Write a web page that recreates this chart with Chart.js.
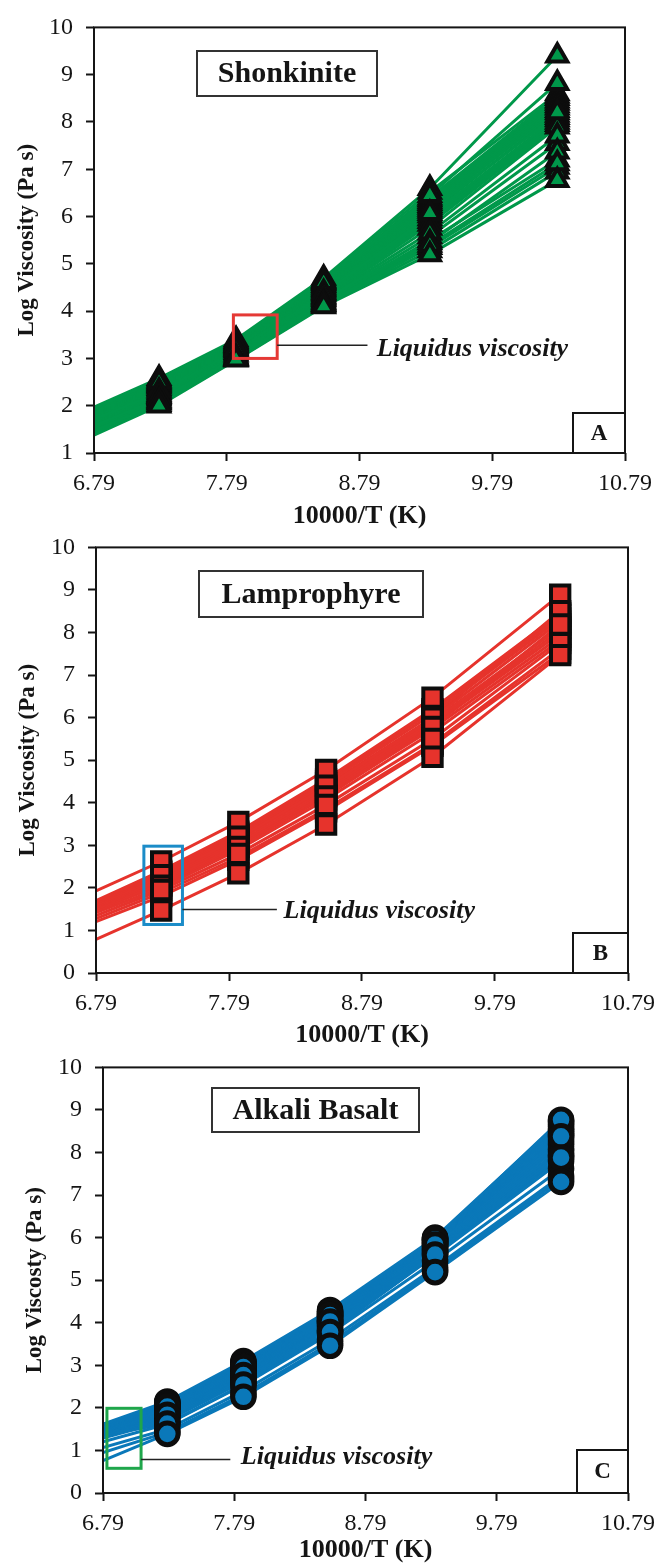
<!DOCTYPE html>
<html>
<head>
<meta charset="utf-8">
<title>Log viscosity vs 10000/T</title>
<script src="https://cdn.jsdelivr.net/npm/chart.js@4.4.1/dist/chart.umd.min.js"></script>
<style>
    html, body { margin: 0; padding: 0; background: #fff; }
    body { width: 663px; height: 1564px; position: relative; overflow: hidden; }
    .panel { position: absolute; left: 0; width: 663px; }
    canvas { display: block; }
</style>
</head>
<body>
<div class="panel" style="top:0px"><canvas id="chartA" width="663" height="540"></canvas></div>
<div class="panel" style="top:520px"><canvas id="chartB" width="663" height="540"></canvas></div>
<div class="panel" style="top:1040px"><canvas id="chartC" width="663" height="530"></canvas></div>
<script>
// ------------------------------
// Data
// ------------------------------
const xTickValues = [6.79, 7.79, 8.79, 9.79, 10.79];
// 10000/T (K) for 1200, 1100, 1000, 900, 800 and 700 °C
const invTemp = [6.79, 7.28, 7.86, 8.52, 9.32, 10.28];

// one row per melt composition, one value per temperature in invTemp
// (rows are in plotting order: the last rows end up on top of the marker stacks)
const shonkinite = [
    [1.95, 2.55, 3.37, 4.66, 6.52, 8.60],
    [1.93, 2.52, 3.35, 4.63, 6.40, 8.55],
    [1.91, 2.48, 3.33, 4.59, 6.36, 8.50],
    [1.88, 2.46, 3.31, 4.56, 6.32, 8.45],
    [1.86, 2.44, 3.29, 4.54, 6.28, 8.40],
    [1.84, 2.42, 3.27, 4.51, 6.24, 8.35],
    [1.82, 2.40, 3.25, 4.48, 6.20, 8.30],
    [1.80, 2.37, 3.23, 4.46, 6.16, 8.25],
    [1.78, 2.34, 3.21, 4.43, 6.12, 8.15],
    [1.72, 2.28, 3.18, 4.38, 6.02, 8.10],
    [1.70, 2.25, 3.16, 4.35, 5.96, 8.05],
    [1.68, 2.23, 3.13, 4.32, 5.90, 8.00],
    [1.66, 2.21, 3.10, 4.30, 5.84, 7.95],
    [1.64, 2.20, 3.07, 4.28, 5.76, 7.90],
    [1.58, 2.15, 3.02, 4.22, 5.58, 7.55],
    [1.55, 2.12, 3.01, 4.19, 5.50, 7.20],
    [1.47, 2.06, 2.99, 4.14, 5.35, 7.05],
    [1.43, 2.03, 2.98, 4.12, 5.28, 6.95],
    [1.97, 2.58, 3.40, 4.70, 6.60, 9.40],
    [1.90, 2.50, 3.29, 4.61, 6.45, 8.82],
    [1.75, 2.31, 3.20, 4.40, 6.07, 8.20],
    [1.62, 2.18, 3.04, 4.25, 5.66, 7.71],
    [1.52, 2.10, 3.00, 4.16, 5.45, 7.37],
    [1.50, 2.08, 3.00, 4.15, 5.40, 7.12],
    [1.38, 2.00, 2.97, 4.10, 5.20, 6.77]
];

const lamprophyre = [
    [1.70, 2.40, 3.32, 4.55, 6.20, 8.45],
    [1.67, 2.37, 3.28, 4.51, 6.15, 8.40],
    [1.64, 2.33, 3.24, 4.46, 6.08, 8.33],
    [1.60, 2.27, 3.17, 4.37, 5.98, 8.26],
    [1.57, 2.22, 3.12, 4.32, 5.92, 8.12],
    [1.54, 2.17, 3.06, 4.26, 5.86, 8.05],
    [1.50, 2.12, 3.01, 4.21, 5.82, 7.98],
    [1.46, 2.08, 2.97, 4.17, 5.74, 7.90],
    [1.42, 2.00, 2.90, 4.08, 5.65, 7.82],
    [1.28, 1.88, 2.72, 3.85, 5.38, 7.62],
    [1.21, 1.80, 2.66, 3.80, 5.34, 7.52],
    [1.93, 2.62, 3.55, 4.77, 6.47, 8.89],
    [1.62, 2.30, 3.20, 4.40, 6.00, 8.50],
    [1.52, 2.05, 2.96, 4.15, 5.78, 8.19],
    [1.35, 1.95, 2.80, 3.95, 5.50, 7.75],
    [0.79, 1.47, 2.34, 3.49, 5.08, 7.47]
];

const alkaliBasalt = [
    [1.62, 2.15, 3.10, 4.30, 6.00, 8.74],
    [1.60, 2.13, 3.07, 4.27, 5.98, 8.70],
    [1.57, 2.11, 3.04, 4.25, 5.96, 8.65],
    [1.55, 2.09, 3.02, 4.22, 5.94, 8.60],
    [1.53, 2.07, 2.99, 4.19, 5.92, 8.55],
    [1.51, 2.05, 2.96, 4.16, 5.90, 8.50],
    [1.49, 2.01, 2.93, 4.13, 5.88, 8.45],
    [1.47, 1.98, 2.90, 4.10, 5.86, 8.40],
    [1.45, 1.95, 2.87, 4.07, 5.82, 8.32],
    [1.43, 1.92, 2.84, 4.04, 5.79, 8.25],
    [1.41, 1.89, 2.81, 4.01, 5.76, 8.18],
    [1.39, 1.86, 2.78, 3.98, 5.73, 8.10],
    [1.37, 1.82, 2.75, 3.95, 5.70, 8.03],
    [1.35, 1.78, 2.71, 3.90, 5.67, 7.96],
    [1.32, 1.74, 2.66, 3.85, 5.64, 7.92],
    [1.29, 1.70, 2.62, 3.81, 5.58, 7.80],
    [1.20, 1.62, 2.54, 3.75, 5.45, 7.62],
    [1.07, 1.50, 2.40, 3.60, 5.30, 7.45],
    [0.95, 1.43, 2.32, 3.52, 5.24, 7.38],
    [1.58, 2.03, 2.96, 4.18, 5.96, 8.77],
    [1.48, 1.84, 2.77, 4.03, 5.84, 8.38],
    [1.36, 1.63, 2.55, 3.78, 5.60, 7.88],
    [0.76, 1.39, 2.26, 3.46, 5.19, 7.31]
];

const SERIF = "'Liberation Serif', 'Times New Roman', serif";
const INK = '#151515';

// ------------------------------
// Panel settings (layout and styling only)
// ------------------------------
const panels = [
    {
        id: 'chartA', series: shonkinite, yMin: 1,
        color: '#00984a', marker: 'triangle', markerRadius: 11.5, markerBorder: 4,
        yTitle: 'Log Viscosity (Pa s)', name: 'Shonkinite', letter: 'A',
        height: 540, plot: { left: 94, right: 625, top: 22, bottom: 453 },
        xTitleY: 516, yTitleX: 27,
        nameBox: { x: 197, y: 51, w: 180, h: 45 },
        letterBox: { w: 52, h: 40 },
        liquidus: { x0: 7.84, x1: 8.17, y0: 3.0, y1: 3.92, lineY: 3.28, lineTo: 8.85, textX: 8.92, textY: 3.2, color: '#e53935' }
    },
    {
        id: 'chartB', series: lamprophyre, yMin: 0,
        color: '#e6332c', marker: 'rect', markerRadius: 13, markerBorder: 4,
        yTitle: 'Log Viscosity (Pa s)', name: 'Lamprophyre', letter: 'B',
        height: 540, plot: { left: 96, right: 628, top: 24, bottom: 453 },
        xTitleY: 515, yTitleX: 28,
        nameBox: { x: 199, y: 51, w: 224, h: 46 },
        letterBox: { w: 55, h: 40 },
        liquidus: { x0: 7.15, x1: 7.44, y0: 1.14, y1: 2.98, lineY: 1.49, lineTo: 8.15, textX: 8.2, textY: 1.45, color: '#1b8cc8' }
    },
    {
        id: 'chartC', series: alkaliBasalt, yMin: 0,
        color: '#0a78b9', marker: 'circle', markerRadius: 10.8, markerBorder: 5,
        yTitle: 'Log Viscosty (Pa s)', name: 'Alkali Basalt', letter: 'C',
        height: 530, plot: { left: 103, right: 634, top: 20, bottom: 453 },
        xTitleY: 510, yTitleX: 35,
        nameBox: { x: 212, y: 48, w: 207, h: 44 },
        letterBox: { w: 51, h: 43 },
        liquidus: { x0: 6.82, x1: 7.08, y0: 0.58, y1: 1.99, lineY: 0.79, lineTo: 7.76, textX: 7.84, textY: 0.84, color: '#1fa64b' }
    }
];

// ------------------------------
// Frame, name box, liquidus marker and panel letter
// ------------------------------
const decorPlugin = {
    id: 'decor',
    afterDatasetsDraw(chart, args, opts) {
        const p = opts.panel;
        if (!p) return;
        const { ctx, chartArea: a, scales: { x, y } } = chart;
        ctx.save();

        // plot frame
        ctx.strokeStyle = INK;
        ctx.lineWidth = 2;
        ctx.strokeRect(a.left, a.top, a.right - a.left, a.bottom - a.top);

        // rock name box
        const nb = p.nameBox;
        ctx.fillStyle = '#fff';
        ctx.fillRect(nb.x, nb.y, nb.w, nb.h);
        ctx.strokeStyle = '#333';
        ctx.lineWidth = 2;
        ctx.strokeRect(nb.x, nb.y, nb.w, nb.h);
        ctx.fillStyle = INK;
        ctx.font = 'bold 30px ' + SERIF;
        ctx.textAlign = 'center';
        ctx.textBaseline = 'middle';
        ctx.fillText(p.name, nb.x + nb.w / 2, nb.y + nb.h / 2 + 1);

        // liquidus viscosity highlight
        const lq = p.liquidus;
        const bx0 = x.getPixelForValue(lq.x0), bx1 = x.getPixelForValue(lq.x1);
        const by0 = y.getPixelForValue(lq.y1), by1 = y.getPixelForValue(lq.y0);
        ctx.strokeStyle = lq.color;
        ctx.lineWidth = 3;
        ctx.strokeRect(bx0, by0, bx1 - bx0, by1 - by0);

        const ly = y.getPixelForValue(lq.lineY);
        ctx.strokeStyle = '#222';
        ctx.lineWidth = 1.5;
        ctx.beginPath();
        ctx.moveTo(bx1, ly);
        ctx.lineTo(x.getPixelForValue(lq.lineTo), ly);
        ctx.stroke();

        ctx.fillStyle = INK;
        ctx.font = 'italic bold 26px ' + SERIF;
        ctx.textAlign = 'left';
        ctx.fillText('Liquidus viscosity', x.getPixelForValue(lq.textX), y.getPixelForValue(lq.textY));

        // panel letter
        const lb = p.letterBox;
        ctx.fillStyle = '#fff';
        ctx.fillRect(a.right - lb.w, a.bottom - lb.h, lb.w, lb.h);
        ctx.strokeStyle = INK;
        ctx.lineWidth = 2;
        ctx.strokeRect(a.right - lb.w, a.bottom - lb.h, lb.w, lb.h);
        ctx.fillStyle = INK;
        ctx.font = 'bold 23px ' + SERIF;
        ctx.textAlign = 'center';
        ctx.fillText(p.letter, a.right - lb.w / 2, a.bottom - lb.h / 2 + 1);

        ctx.restore();
    }
};

// ------------------------------
// Build one chart per panel
// ------------------------------
function markerPoints(series) {
    // markers follow row order, so later rows sit on top of the stacks
    const pts = [];
    series.forEach(s => {
        for (let i = 1; i < invTemp.length; i++) {
            pts.push({ x: invTemp[i], y: s[i] });
        }
    });
    return pts;
}

function buildPanel(p) {
    const xTitleLH = 26 * 1.2;
    const axisH = Math.round(p.xTitleY + xTitleLH / 2 - p.plot.bottom);

    const lineSets = p.series.map(s => ({
        data: s.map((v, i) => ({ x: invTemp[i], y: v })),
        borderColor: p.color,
        borderWidth: 3,
        pointRadius: 0,
        tension: 0,
        fill: false,
        order: 2
    }));

    const markerSet = {
        data: markerPoints(p.series),
        showLine: false,
        pointStyle: p.marker,
        pointRadius: p.markerRadius,
        pointBorderWidth: p.markerBorder,
        pointBackgroundColor: p.color,
        pointBorderColor: '#0d0d0d',
        order: 1
    };

    new Chart(document.getElementById(p.id), {
        type: 'line',
        data: { datasets: [...lineSets, markerSet] },
        options: {
            responsive: false,
            animation: false,
            events: [],
            layout: {
                padding: {
                    left: 0,
                    top: p.plot.top,
                    right: 663 - p.plot.right,
                    bottom: p.height - p.plot.bottom - axisH
                }
            },
            plugins: {
                legend: { display: false },
                tooltip: { enabled: false },
                decor: { panel: p }
            },
            scales: {
                x: {
                    type: 'linear',
                    min: 6.79,
                    max: 10.79,
                    afterBuildTicks: (scale) => { scale.ticks = xTickValues.map(v => ({ value: v })); },
                    afterFit: (scale) => { scale.height = axisH; },
                    border: { display: false },
                    grid: { drawOnChartArea: false, drawTicks: true, tickLength: 8, tickWidth: 2, tickColor: INK },
                    ticks: {
                        padding: 8,
                        color: INK,
                        font: { family: SERIF, size: 24 },
                        callback: (v) => v.toFixed(2)
                    },
                    title: {
                        display: true,
                        text: '10000/T (K)',
                        color: INK,
                        font: { family: SERIF, size: 26, weight: 'bold' },
                        padding: { top: 0, bottom: 0 }
                    }
                },
                y: {
                    min: p.yMin,
                    max: 10,
                    afterFit: (scale) => { scale.width = p.plot.left; },
                    border: { display: false },
                    grid: { drawOnChartArea: false, drawTicks: true, tickLength: 8, tickWidth: 2, tickColor: INK },
                    ticks: {
                        stepSize: 1,
                        padding: 13,
                        color: INK,
                        font: { family: SERIF, size: 24 }
                    },
                    title: {
                        display: true,
                        text: p.yTitle,
                        color: INK,
                        font: { family: SERIF, size: 23, weight: 'bold' },
                        padding: { top: p.yTitleX - 23 * 1.2 / 2, bottom: 0 }
                    }
                }
            }
        },
        plugins: [decorPlugin]
    });
}

panels.forEach(buildPanel);
</script>
</body>
</html>
